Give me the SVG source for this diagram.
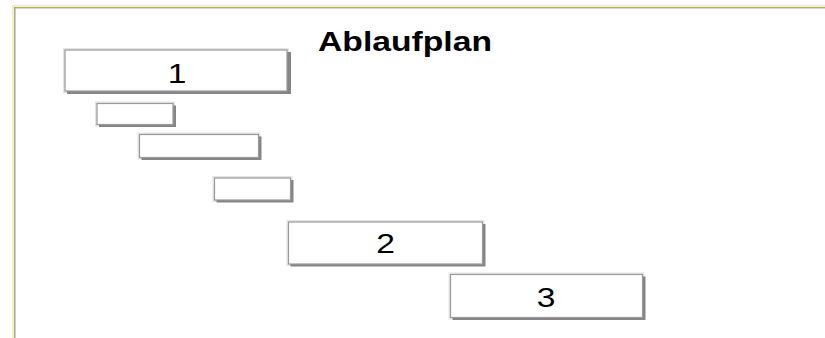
<svg xmlns="http://www.w3.org/2000/svg" width="825" height="338" viewBox="0 0 825 338">
<style>
.sh{fill:#858585;}
.hl{fill:none;stroke:#e4e4e4;stroke-width:2;}
.bx{fill:#ffffff;stroke:#9a9a9a;stroke-width:1.2;}
.num{font-family:"Liberation Sans",Arial,sans-serif;font-size:28px;fill:#000;text-anchor:middle;}
.ttl{font-family:"Liberation Sans",Arial,sans-serif;font-size:27px;font-weight:bold;fill:#000;}
</style>
<rect width="825" height="338" fill="#ffffff"/>
<g id="frame">
<path d="M12.8 338 V5.8 H825" fill="none" stroke="#f6eea6" stroke-width="1.8"/>
<path d="M14.8 338 V7.8 H825" fill="none" stroke="#a9a9a9" stroke-width="1.6"/>
</g>
<g id="title">
<text class="ttl" x="318" y="51" textLength="174" lengthAdjust="spacingAndGlyphs">Ablaufplan</text>
</g>
<g id="connectors"></g>
<g id="node1">
<rect class="hl" x="64" y="49" width="224" height="43"/>
<rect class="sh" x="67" y="52" width="224" height="42"/>
<rect class="bx" x="65" y="50" width="222" height="41"/>
<text class="num" transform="translate(177,83) scale(1.2,1)">1</text>
</g>
<g id="nodeA">
<rect class="hl" x="96" y="102.5" width="78" height="23"/>
<rect class="sh" x="99" y="105.5" width="77" height="21.5"/>
<rect class="bx" x="97" y="103.5" width="76" height="21"/>
</g>
<g id="nodeB">
<rect class="hl" x="138.5" y="133.5" width="121" height="25"/>
<rect class="sh" x="141.5" y="136.5" width="120" height="23.5"/>
<rect class="bx" x="139.5" y="134.5" width="119" height="23"/>
</g>
<g id="nodeC">
<rect class="hl" x="213.5" y="177" width="78" height="24"/>
<rect class="sh" x="216.5" y="180" width="77" height="22.5"/>
<rect class="bx" x="214.5" y="178" width="76" height="22"/>
</g>
<g id="node2">
<rect class="hl" x="287.5" y="221" width="196" height="44"/>
<rect class="sh" x="290.5" y="224" width="195" height="42.5"/>
<rect class="bx" x="288.5" y="222" width="194" height="42"/>
<text class="num" transform="translate(385.5,253) scale(1.2,1)">2</text>
</g>
<g id="node3">
<rect class="hl" x="449.5" y="273.5" width="194" height="45"/>
<rect class="sh" x="452.5" y="276.5" width="193" height="43.5"/>
<rect class="bx" x="450.5" y="274.5" width="192" height="43"/>
<text class="num" transform="translate(546,306.5) scale(1.2,1)">3</text>
</g>
</svg>
